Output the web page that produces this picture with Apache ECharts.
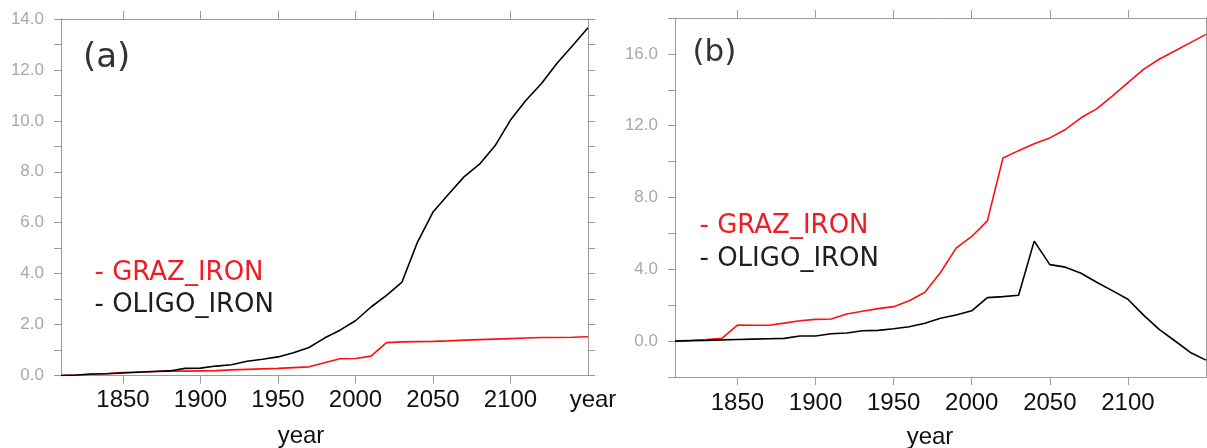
<!DOCTYPE html>
<html>
<head>
<meta charset="utf-8">
<script src="https://cdn.jsdelivr.net/npm/echarts@6/dist/echarts.min.js"></script>
<style>
html,body{margin:0;padding:0;background:#fff;}
#chart{width:1207px;height:448px;}
</style>
</head>
<body>
<div id="chart"></div>
<script>
const years = [1810,1820,1830,1840,1850,1860,1870,1880,1890,1900,1910,1920,1930,1940,1950,1960,1970,1980,1990,2000,2010,2020,2030,2040,2050,2060,2070,2080,2090,2100,2110,2120,2130,2140,2150];
const grazA = [0.00,0.02,0.05,0.08,0.12,0.14,0.16,0.17,0.17,0.18,0.19,0.22,0.24,0.26,0.28,0.31,0.34,0.50,0.66,0.67,0.76,1.29,1.32,1.33,1.34,1.36,1.39,1.41,1.43,1.45,1.47,1.49,1.49,1.50,1.52];
const oligoA = [0.00,0.02,0.06,0.07,0.10,0.13,0.16,0.18,0.28,0.29,0.37,0.42,0.56,0.64,0.73,0.89,1.10,1.47,1.78,2.15,2.69,3.15,3.67,5.24,6.42,7.12,7.80,8.30,9.02,10.03,10.81,11.47,12.26,12.95,13.66];
const grazB = [0.00,0.04,0.09,0.15,0.89,0.88,0.88,1.00,1.13,1.21,1.23,1.51,1.66,1.81,1.92,2.25,2.72,3.82,5.18,5.83,6.70,10.20,10.61,11.00,11.32,11.79,12.44,12.94,13.65,14.40,15.14,15.70,16.16,16.63,17.09];
const oligoB = [0.00,0.02,0.04,0.07,0.09,0.11,0.13,0.15,0.28,0.28,0.41,0.45,0.58,0.60,0.69,0.80,0.99,1.27,1.45,1.69,2.42,2.48,2.55,5.57,4.26,4.12,3.78,3.28,2.81,2.33,1.45,0.65,0.02,-0.63,-1.06];
const xTickYears = [1850,1900,1950,2000,2050,2100];
const xLabelA = [1850,1900,1950,2000,2050,2100,2150];
const xLabelB = [1850,1900,1950,2000,2050,2100];
const seriesNames = ['GRAZ_IRON','OLIGO_IRON'];
const panelTags = ['(a)','(b)'];
const xName = 'year';

const FONT = 'DejaVu Sans';
const AFONT = 'Liberation Sans';
const AXC = '#9a9a9a';
const RED = '#ff1010';

function pairs(ys){ return years.map((y,i)=>[y, ys[i]]); }

function xBottom(grid, labels, padRight, margin, gap){
  return {
    type:'value', gridIndex:grid, position:'bottom', min:1810, max:2150,
    name:xName, nameLocation:'middle', nameGap:gap,
    nameTextStyle:{fontFamily:AFONT,fontSize:24,color:'#111',padding:[0,padRight,0,0]},
    axisLine:{show:true,onZero:false,lineStyle:{color:AXC,width:1}},
    axisTick:{show:true,length:8,customValues:xTickYears,lineStyle:{color:AXC}},
    axisLabel:{show:true,customValues:labels,margin:margin,fontFamily:AFONT,fontSize:24,color:'#111',
      showMaxLabel:true,showMinLabel:true,
      formatter:v=> v===2150 ? '{n|'+xName+'}' : String(v),
      rich:{n:{fontFamily:AFONT,fontSize:24,color:'#111',padding:[0,0,0,10]}}},
    splitLine:{show:false}
  };
}
function xTop(grid){
  return {
    type:'value', gridIndex:grid, position:'top', min:1810, max:2150,
    axisLine:{show:true,onZero:false,lineStyle:{color:AXC,width:1}},
    axisTick:{show:true,length:8,customValues:xTickYears,lineStyle:{color:AXC}},
    axisLabel:{show:false}, splitLine:{show:false}
  };
}
function yLeft(grid,min,max,interval,labelEvery){
  return {
    type:'value', gridIndex:grid, position:'left', min:min, max:max, interval:interval,
    axisLine:{show:true,onZero:false,lineStyle:{color:AXC,width:1}},
    axisTick:{show:true,length:7,lineStyle:{color:AXC}},
    axisLabel:{show:true,margin:17,fontFamily:AFONT,fontSize:17,color:'#a8a8a8',
      formatter:v=> (Math.abs(Math.round(v)%labelEvery)===0) ? v.toFixed(1) : ''},
    splitLine:{show:false}
  };
}
function yRight(grid,min,max,interval){
  return {
    type:'value', gridIndex:grid, position:'right', min:min, max:max, interval:interval,
    axisLine:{show:true,onZero:false,lineStyle:{color:AXC,width:1}},
    axisTick:{show:true,length:7,lineStyle:{color:AXC}},
    axisLabel:{show:false}, splitLine:{show:false}
  };
}
function line(name, color, data, xi, yi){
  return {type:'line', name:name, xAxisIndex:xi, yAxisIndex:yi, data:pairs(data),
    symbol:'none', lineStyle:{color:color,width:1.6}, itemStyle:{color:color}, clip:true};
}
function legend(left, top, gap){
  return {
    orient:'vertical', left:left, top:top, itemGap:gap, icon:'none', itemWidth:0, itemHeight:0,
    padding:0, selectedMode:false,
    formatter:n=>'- '+n,
    data:[
      {name:seriesNames[0], textStyle:{color:'#ee1c24'}},
      {name:seriesNames[1], textStyle:{color:'#1e1e1e'}}
    ],
    textStyle:{fontFamily:FONT,fontSize:26,padding:0}
  };
}

const chart = echarts.init(document.getElementById('chart'), null, {renderer:'canvas'});
chart.setOption({
  animation:false,
  backgroundColor:'#fff',
  title:[
    {text:panelTags[0], left:83, top:41, padding:0, textStyle:{fontFamily:FONT,fontSize:34,fontWeight:'normal',color:'#333'}},
    {text:panelTags[1], left:692.5, top:37.5, padding:0, textStyle:{fontFamily:FONT,fontSize:31,fontWeight:'normal',color:'#333'}}
  ],
  legend:[ legend(89.5, 260.5, 5.3), legend(694.5, 213, 7.5) ],
  grid:[
    {left:61, top:19, width:527, height:356.5, outerBoundsMode:'none', containLabel:false},
    {left:675, top:18, width:531, height:359, outerBoundsMode:'none', containLabel:false}
  ],
  xAxis:[ xBottom(0, xLabelA, 47, 13, 48.5), xTop(0), xBottom(1, xLabelB, 21, 14, 48), xTop(1) ],
  yAxis:[ yLeft(0,0,14,1,2), yRight(0,0,14,1), yLeft(1,-2,18,2,4), yRight(1,-2,18,2) ],
  series:[
    line(seriesNames[0], RED, grazA, 0, 0),
    line(seriesNames[1], '#000', oligoA, 0, 0),
    line(seriesNames[0], RED, grazB, 2, 2),
    line(seriesNames[1], '#000', oligoB, 2, 2)
  ]
});
</script>
</body>
</html>
